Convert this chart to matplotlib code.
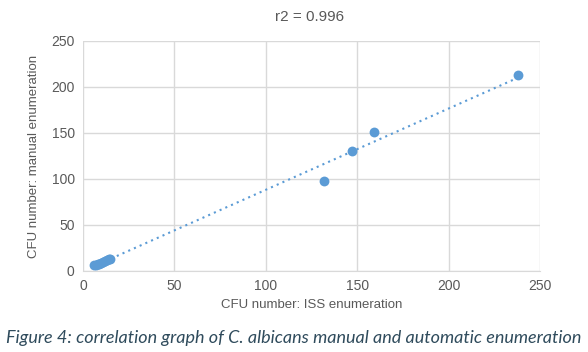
import numpy as np
import matplotlib.pyplot as plt

# CFU counts
iss_counts = [6, 7, 8, 9, 10, 11, 12, 13, 14, 15, 132, 147, 159, 238]
manual_counts = [6, 7, 8, 8, 9, 10, 11, 12, 13, 13, 98, 130, 151, 213]
x_ticks = [0, 50, 100, 150, 200, 250]
y_ticks = [0, 50, 100, 150, 200, 250]
r2_label = "r2 = 0.996"
caption = "Figure 4: correlation graph of C. albicans manual and automatic enumeration"

blue = "#5B9BD5"
grid_col = "#D9D9D9"
text_col = "#595959"

plt.rcParams['font.family'] = ['Liberation Sans', 'DejaVu Sans']

fig = plt.figure(figsize=(5.88, 3.52), dpi=100)
ax = fig.add_axes([83 / 588, 1 - 271 / 352, 457 / 588, 230 / 352])

ax.scatter(iss_counts, manual_counts, s=50, color=blue, zorder=3, linewidths=0)

# linear trendline
slope, intercept = np.polyfit(iss_counts, manual_counts, 1)
xs = np.array([min(iss_counts), max(iss_counts)])
ax.plot(xs, slope * xs + intercept, linestyle=(0, (1, 2)), color=blue, lw=1.5, zorder=2)

ax.set_xlim(0, 250)
ax.set_ylim(0, 250)
ax.set_xticks(x_ticks)
ax.set_yticks(y_ticks)
ax.grid(True, color=grid_col, lw=1)
ax.set_axisbelow(True)
for side in ['top', 'right', 'left']:
    ax.spines[side].set_visible(False)
ax.spines['bottom'].set_color(grid_col)
ax.tick_params(length=0, labelsize=10, colors=text_col, pad=6)

ax.set_xlabel("CFU number: ISS enumeration", fontsize=9.5, color=text_col, labelpad=4)
ax.set_ylabel("CFU number: manual enumeration", fontsize=9.5, color=text_col, labelpad=8)
fig.text(310 / 588, 1 - 17 / 352, r2_label, ha='center', va='center', fontsize=11, color=text_col)

fig.text(294 / 588, 1 - 338 / 352, caption, ha='center', va='center', fontsize=13,
         style='italic', color="#2F4B5C", family=['Lato', 'DejaVu Sans'])

fig.savefig("out.png", dpi=100)
